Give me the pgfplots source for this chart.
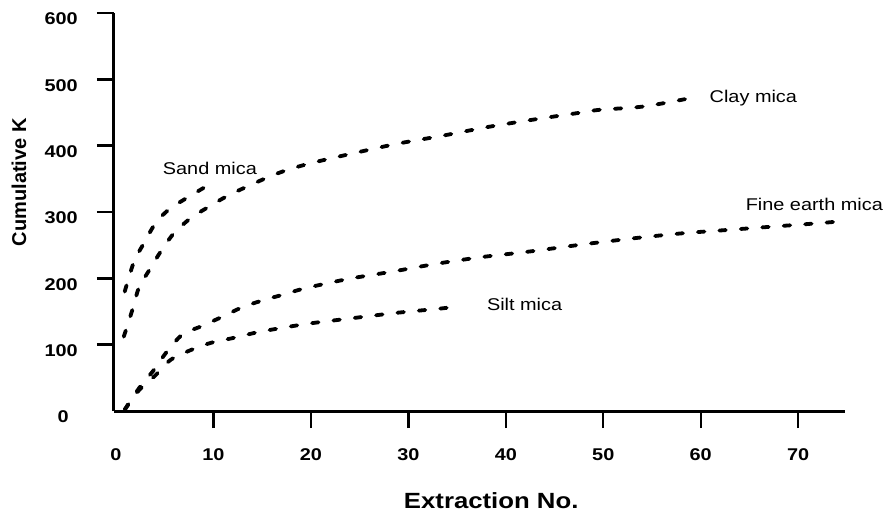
\documentclass[border=0pt]{standalone}
\usepackage{pgfplots}
\pgfplotsset{compat=1.18}
\usepackage{fontspec}
\setmainfont{Liberation Sans}[FakeStretch=1.17]
\newfontfamily\plainsf{Liberation Sans}
\begin{document}
\begin{tikzpicture}
\begin{axis}[
  name=ax,
  scale only axis,
  width=731pt, height=398pt,
  xmin=-0.2, xmax=74.8, ymin=0, ymax=600,
  axis x line*=bottom, axis y line*=left,
  axis line style={line width=3pt, black},
  every outer x axis line/.append style={line width=3pt, black},
  every outer y axis line/.append style={line width=3pt, black},
  xtick={10,20,...,70},
  ytick={100,200,...,600},
  extra x ticks={0}, extra y ticks={0},
  extra tick style={major tick style={draw=none}},
  extra y tick style={yticklabel style={xshift=-9pt}},
  tick align=outside,
  major tick length=17pt,
  major tick style={line width=2.4pt, black},
  /pgf/number format/assume math mode=true,
  ticklabel style={font=\fontsize{17}{20}\selectfont\bfseries, inner sep=0pt},
  xticklabel style={anchor=center, yshift=-27pt},
  yticklabel style={anchor=east, xshift=-19pt, yshift=-6pt},
  xlabel={Extraction No.},
  xlabel style={at={(axis description cs:0.516,-0.225)}, anchor=center, font=\fontsize{22}{26}\selectfont\bfseries},
  ylabel={\plainsf\bfseries Cumulative K},
  ylabel style={at={(axis description cs:-0.130,0.575)}, anchor=center, font=\fontsize{20}{24}\selectfont},
  clip=false,
]
\pgfplotsset{cur/.style={black, no markers, line width=3.8pt, line cap=round, dash pattern=on 6.5pt off 15pt, smooth, tension=0.5}}
% Sand mica
\addplot[cur] coordinates {(0.9,180) (1.85,225) (2.87,253) (4.10,284) (5.54,305) (7.59,324) (9.64,342)};
% Clay mica
\addplot[cur] coordinates {(0.8,112) (1.74,155) (2.36,186) (3.49,214) (4.62,241) (5.95,268) (7.69,291) (9.54,308) (11.4,324) (13.4,338) (15.7,353) (17.5,363) (20.1,374) (24.5,389) (28.9,403) (33.5,415) (38.1,428) (42.7,439) (47.3,449) (49.6,454) (54.1,459) (58.7,471)};
% Fine earth mica
\addplot[cur] coordinates {(0.9,2) (2.4,35) (3.9,62) (5.2,89) (6.8,115) (8.8,128) (10.9,142) (12.9,156) (15.1,167) (17.3,176) (19.4,185) (23.8,199) (28.3,210) (32.9,222) (37.5,232) (42.2,240) (46.8,249) (48.9,253) (53.5,261) (58.2,268) (62.8,273) (67.4,278) (72.0,283) (74.4,286)};
% Silt mica
\addplot[cur] coordinates {(0.9,2) (2.4,32) (4.0,53) (5.6,77) (7.7,92) (9.8,103) (12.0,110) (14.3,118) (16.5,124) (19.9,132) (24.3,140) (28.8,148) (33.0,154) (34.8,157)};
\node[font=\fontsize{17}{20}\selectfont, inner sep=0pt] at (axis cs:9.64,365) {Sand mica};
\node[font=\fontsize{17}{20}\selectfont, inner sep=0pt, anchor=west] at (axis cs:60.9,471) {Clay mica};
\node[font=\fontsize{17}{20}\selectfont, inner sep=0pt, anchor=west] at (axis cs:64.6,311) {Fine earth mica};
\node[font=\fontsize{17}{20}\selectfont, inner sep=0pt, anchor=west] at (axis cs:38.05,160) {Silt mica};
\end{axis}
\pgfresetboundingbox
\path[use as bounding box] ([xshift=-114pt,yshift=-103pt]ax.south west) rectangle ([xshift=48pt,yshift=13pt]ax.north east);
\end{tikzpicture}
\end{document}
